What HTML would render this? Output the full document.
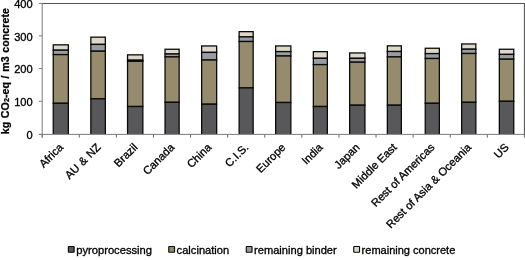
<!DOCTYPE html>
<html><head><meta charset="utf-8"><title>chart</title>
<style>html,body{margin:0;padding:0;background:#fff}svg{display:block}</style></head>
<body>
<svg width="525" height="260" viewBox="0 0 525 260" font-family="'Liberation Sans', sans-serif">
<rect width="525" height="260" fill="#fff"/>
<path d="M38.90 134.40H42.2" stroke="#7c7c7c" stroke-width="1"/>
<text x="32.7" y="138.60" font-size="11.1" text-anchor="end" fill="#000" stroke="#000" stroke-width="0.32">0</text>
<path d="M38.90 101.25H42.2" stroke="#7c7c7c" stroke-width="1"/>
<text x="32.7" y="105.95" font-size="11.1" text-anchor="end" fill="#000" stroke="#000" stroke-width="0.32">100</text>
<path d="M38.90 68.55H42.2" stroke="#7c7c7c" stroke-width="1"/>
<text x="32.7" y="73.30" font-size="11.1" text-anchor="end" fill="#000" stroke="#000" stroke-width="0.32">200</text>
<path d="M38.90 35.85H42.2" stroke="#7c7c7c" stroke-width="1"/>
<text x="32.7" y="40.65" font-size="11.1" text-anchor="end" fill="#000" stroke="#000" stroke-width="0.32">300</text>
<path d="M38.90 3.45H42.2" stroke="#7c7c7c" stroke-width="1"/>
<text x="32.7" y="8.00" font-size="11.1" text-anchor="end" fill="#000" stroke="#000" stroke-width="0.32">400</text>
<path d="M42.20 134.4V137.60" stroke="#666" stroke-width="1"/>
<path d="M79.29 134.4V137.60" stroke="#666" stroke-width="1"/>
<path d="M116.38 134.4V137.60" stroke="#666" stroke-width="1"/>
<path d="M153.48 134.4V137.60" stroke="#666" stroke-width="1"/>
<path d="M190.57 134.4V137.60" stroke="#666" stroke-width="1"/>
<path d="M227.66 134.4V137.60" stroke="#666" stroke-width="1"/>
<path d="M264.75 134.4V137.60" stroke="#666" stroke-width="1"/>
<path d="M301.85 134.4V137.60" stroke="#666" stroke-width="1"/>
<path d="M338.94 134.4V137.60" stroke="#666" stroke-width="1"/>
<path d="M376.03 134.4V137.60" stroke="#666" stroke-width="1"/>
<path d="M413.12 134.4V137.60" stroke="#666" stroke-width="1"/>
<path d="M450.22 134.4V137.60" stroke="#666" stroke-width="1"/>
<path d="M487.31 134.4V137.60" stroke="#666" stroke-width="1"/>
<path d="M524.40 134.4V137.60" stroke="#666" stroke-width="1"/>
<clipPath id="cb"><rect x="0" y="0" width="525" height="133.90"/></clipPath><g clip-path="url(#cb)">
<rect x="53.25" y="44.85" width="15.10" height="5.35" fill="#ded8ca" stroke="#0a0a0a" stroke-width="1.3"/>
<rect x="53.25" y="50.20" width="15.10" height="4.40" fill="#9b9ba4" stroke="#0a0a0a" stroke-width="1.3"/>
<rect x="53.25" y="54.60" width="15.10" height="48.70" fill="#968b6c" stroke="#0a0a0a" stroke-width="1.3"/>
<rect x="53.25" y="103.30" width="15.10" height="33.60" fill="#58585a" stroke="#0a0a0a" stroke-width="1.3"/>
<rect x="90.85" y="37.15" width="14.50" height="7.25" fill="#ded8ca" stroke="#0a0a0a" stroke-width="1.3"/>
<rect x="90.85" y="44.40" width="14.50" height="6.80" fill="#9b9ba4" stroke="#0a0a0a" stroke-width="1.3"/>
<rect x="90.85" y="51.20" width="14.50" height="47.60" fill="#968b6c" stroke="#0a0a0a" stroke-width="1.3"/>
<rect x="90.85" y="98.80" width="14.50" height="38.10" fill="#58585a" stroke="#0a0a0a" stroke-width="1.3"/>
<rect x="127.55" y="54.85" width="15.30" height="5.35" fill="#ded8ca" stroke="#0a0a0a" stroke-width="1.3"/>
<rect x="127.55" y="60.20" width="15.30" height="1.10" fill="#9b9ba4" stroke="#0a0a0a" stroke-width="1.3"/>
<rect x="127.55" y="61.30" width="15.30" height="45.20" fill="#968b6c" stroke="#0a0a0a" stroke-width="1.3"/>
<rect x="127.55" y="106.50" width="15.30" height="30.40" fill="#58585a" stroke="#0a0a0a" stroke-width="1.3"/>
<rect x="165.05" y="49.25" width="14.10" height="4.75" fill="#ded8ca" stroke="#0a0a0a" stroke-width="1.3"/>
<rect x="165.05" y="54.00" width="14.10" height="2.90" fill="#9b9ba4" stroke="#0a0a0a" stroke-width="1.3"/>
<rect x="165.05" y="56.90" width="14.10" height="45.40" fill="#968b6c" stroke="#0a0a0a" stroke-width="1.3"/>
<rect x="165.05" y="102.30" width="14.10" height="34.60" fill="#58585a" stroke="#0a0a0a" stroke-width="1.3"/>
<rect x="201.65" y="45.95" width="15.00" height="6.45" fill="#ded8ca" stroke="#0a0a0a" stroke-width="1.3"/>
<rect x="201.65" y="52.40" width="15.00" height="7.60" fill="#9b9ba4" stroke="#0a0a0a" stroke-width="1.3"/>
<rect x="201.65" y="60.00" width="15.00" height="44.20" fill="#968b6c" stroke="#0a0a0a" stroke-width="1.3"/>
<rect x="201.65" y="104.20" width="15.00" height="32.70" fill="#58585a" stroke="#0a0a0a" stroke-width="1.3"/>
<rect x="239.15" y="31.65" width="14.00" height="5.25" fill="#ded8ca" stroke="#0a0a0a" stroke-width="1.3"/>
<rect x="239.15" y="36.90" width="14.00" height="4.60" fill="#9b9ba4" stroke="#0a0a0a" stroke-width="1.3"/>
<rect x="239.15" y="41.50" width="14.00" height="46.40" fill="#968b6c" stroke="#0a0a0a" stroke-width="1.3"/>
<rect x="239.15" y="87.90" width="14.00" height="49.00" fill="#58585a" stroke="#0a0a0a" stroke-width="1.3"/>
<rect x="275.65" y="45.95" width="15.20" height="5.65" fill="#ded8ca" stroke="#0a0a0a" stroke-width="1.3"/>
<rect x="275.65" y="51.60" width="15.20" height="4.40" fill="#9b9ba4" stroke="#0a0a0a" stroke-width="1.3"/>
<rect x="275.65" y="56.00" width="15.20" height="46.50" fill="#968b6c" stroke="#0a0a0a" stroke-width="1.3"/>
<rect x="275.65" y="102.50" width="15.20" height="34.40" fill="#58585a" stroke="#0a0a0a" stroke-width="1.3"/>
<rect x="313.35" y="51.65" width="14.00" height="6.65" fill="#ded8ca" stroke="#0a0a0a" stroke-width="1.3"/>
<rect x="313.35" y="58.30" width="14.00" height="6.30" fill="#9b9ba4" stroke="#0a0a0a" stroke-width="1.3"/>
<rect x="313.35" y="64.60" width="14.00" height="41.90" fill="#968b6c" stroke="#0a0a0a" stroke-width="1.3"/>
<rect x="313.35" y="106.50" width="14.00" height="30.40" fill="#58585a" stroke="#0a0a0a" stroke-width="1.3"/>
<rect x="349.65" y="52.95" width="15.30" height="5.35" fill="#ded8ca" stroke="#0a0a0a" stroke-width="1.3"/>
<rect x="349.65" y="58.30" width="15.30" height="3.90" fill="#9b9ba4" stroke="#0a0a0a" stroke-width="1.3"/>
<rect x="349.65" y="62.20" width="15.30" height="43.00" fill="#968b6c" stroke="#0a0a0a" stroke-width="1.3"/>
<rect x="349.65" y="105.20" width="15.30" height="31.70" fill="#58585a" stroke="#0a0a0a" stroke-width="1.3"/>
<rect x="387.35" y="45.85" width="14.00" height="5.65" fill="#ded8ca" stroke="#0a0a0a" stroke-width="1.3"/>
<rect x="387.35" y="51.50" width="14.00" height="5.40" fill="#9b9ba4" stroke="#0a0a0a" stroke-width="1.3"/>
<rect x="387.35" y="56.90" width="14.00" height="48.30" fill="#968b6c" stroke="#0a0a0a" stroke-width="1.3"/>
<rect x="387.35" y="105.20" width="14.00" height="31.70" fill="#58585a" stroke="#0a0a0a" stroke-width="1.3"/>
<rect x="425.25" y="48.25" width="14.10" height="5.35" fill="#ded8ca" stroke="#0a0a0a" stroke-width="1.3"/>
<rect x="425.25" y="53.60" width="14.10" height="4.90" fill="#9b9ba4" stroke="#0a0a0a" stroke-width="1.3"/>
<rect x="425.25" y="58.50" width="14.10" height="44.80" fill="#968b6c" stroke="#0a0a0a" stroke-width="1.3"/>
<rect x="425.25" y="103.30" width="14.10" height="33.60" fill="#58585a" stroke="#0a0a0a" stroke-width="1.3"/>
<rect x="461.65" y="43.95" width="14.20" height="5.25" fill="#ded8ca" stroke="#0a0a0a" stroke-width="1.3"/>
<rect x="461.65" y="49.20" width="14.20" height="4.30" fill="#9b9ba4" stroke="#0a0a0a" stroke-width="1.3"/>
<rect x="461.65" y="53.50" width="14.20" height="48.80" fill="#968b6c" stroke="#0a0a0a" stroke-width="1.3"/>
<rect x="461.65" y="102.30" width="14.20" height="34.60" fill="#58585a" stroke="#0a0a0a" stroke-width="1.3"/>
<rect x="499.35" y="49.25" width="14.40" height="5.15" fill="#ded8ca" stroke="#0a0a0a" stroke-width="1.3"/>
<rect x="499.35" y="54.40" width="14.40" height="4.80" fill="#9b9ba4" stroke="#0a0a0a" stroke-width="1.3"/>
<rect x="499.35" y="59.20" width="14.40" height="42.10" fill="#968b6c" stroke="#0a0a0a" stroke-width="1.3"/>
<rect x="499.35" y="101.30" width="14.40" height="35.60" fill="#58585a" stroke="#0a0a0a" stroke-width="1.3"/>
</g>
<path d="M42.2 3.45H524.4V134.4" fill="none" stroke="#555" stroke-width="1.05"/>
<path d="M42.2 137.70V2.95" fill="none" stroke="#7c7c7c" stroke-width="1"/>
<path d="M38.90 134.4H524.4" fill="none" stroke="#7c7c7c" stroke-width="1"/>
<text transform="translate(63.85 148.00) rotate(-45)" font-size="11.15" text-anchor="end" fill="#000" stroke="#000" stroke-width="0.32">Africa</text>
<text transform="translate(101.20 148.00) rotate(-45)" font-size="11.15" word-spacing="0.4" text-anchor="end" fill="#000" stroke="#000" stroke-width="0.32">AU &amp; NZ</text>
<text transform="translate(138.20 148.00) rotate(-45)" font-size="11.15" text-anchor="end" fill="#000" stroke="#000" stroke-width="0.32">Brazil</text>
<text transform="translate(175.10 148.00) rotate(-45)" font-size="11.15" text-anchor="end" fill="#000" stroke="#000" stroke-width="0.32">Canada</text>
<text transform="translate(212.10 148.00) rotate(-45)" font-size="11.15" text-anchor="end" fill="#000" stroke="#000" stroke-width="0.32">China</text>
<text transform="translate(249.20 148.00) rotate(-45)" font-size="11.15" text-anchor="end" fill="#000" stroke="#000" stroke-width="0.32">C.I.S.</text>
<text transform="translate(286.20 148.00) rotate(-45)" font-size="11.15" text-anchor="end" fill="#000" stroke="#000" stroke-width="0.32">Europe</text>
<text transform="translate(323.40 148.00) rotate(-45)" font-size="11.15" text-anchor="end" fill="#000" stroke="#000" stroke-width="0.32">India</text>
<text transform="translate(360.30 148.00) rotate(-45)" font-size="11.15" text-anchor="end" fill="#000" stroke="#000" stroke-width="0.32">Japan</text>
<text transform="translate(397.40 148.00) rotate(-45)" font-size="11.15" text-anchor="end" fill="#000" stroke="#000" stroke-width="0.32">Middle East</text>
<text transform="translate(435.30 148.00) rotate(-45)" font-size="11.15" text-anchor="end" fill="#000" stroke="#000" stroke-width="0.32">Rest of Americas</text>
<text transform="translate(471.80 148.00) rotate(-45)" font-size="11.15" text-anchor="end" fill="#000" stroke="#000" stroke-width="0.32">Rest of Asia &amp; Oceania</text>
<text transform="translate(509.50 148.00) rotate(-45)" font-size="11.15" text-anchor="end" fill="#000" stroke="#000" stroke-width="0.32">US</text>
<text transform="translate(9.0 134.3) rotate(-90)" font-size="10.7" word-spacing="0.7" font-weight="bold" fill="#000" stroke="#000" stroke-width="0.25">kg CO<tspan font-size="7.2" dy="0.4">2</tspan><tspan dy="-0.4">-eq / m3 concrete</tspan></text>
<rect x="68.38" y="246.48" width="5.75" height="5.75" rx="0.4" fill="#58585a" stroke="#0a0a0a" stroke-width="1.15"/>
<text x="76.20" y="253.85" font-size="11.2" fill="#000" stroke="#000" stroke-width="0.32">pyroprocessing</text>
<rect x="168.78" y="246.48" width="5.75" height="5.75" rx="0.4" fill="#968b6c" stroke="#0a0a0a" stroke-width="1.15"/>
<text x="176.60" y="253.85" font-size="11.15" fill="#000" stroke="#000" stroke-width="0.32">calcination</text>
<rect x="246.28" y="246.48" width="5.75" height="5.75" rx="0.4" fill="#9b9ba4" stroke="#0a0a0a" stroke-width="1.15"/>
<text x="254.10" y="253.85" font-size="11.1" fill="#000" stroke="#000" stroke-width="0.32">remaining binder</text>
<rect x="353.78" y="246.48" width="5.75" height="5.75" rx="0.4" fill="#ded8ca" stroke="#0a0a0a" stroke-width="1.15"/>
<text x="361.60" y="253.85" font-size="11.03" fill="#000" stroke="#000" stroke-width="0.32">remaining concrete</text>
</svg>
</body></html>
